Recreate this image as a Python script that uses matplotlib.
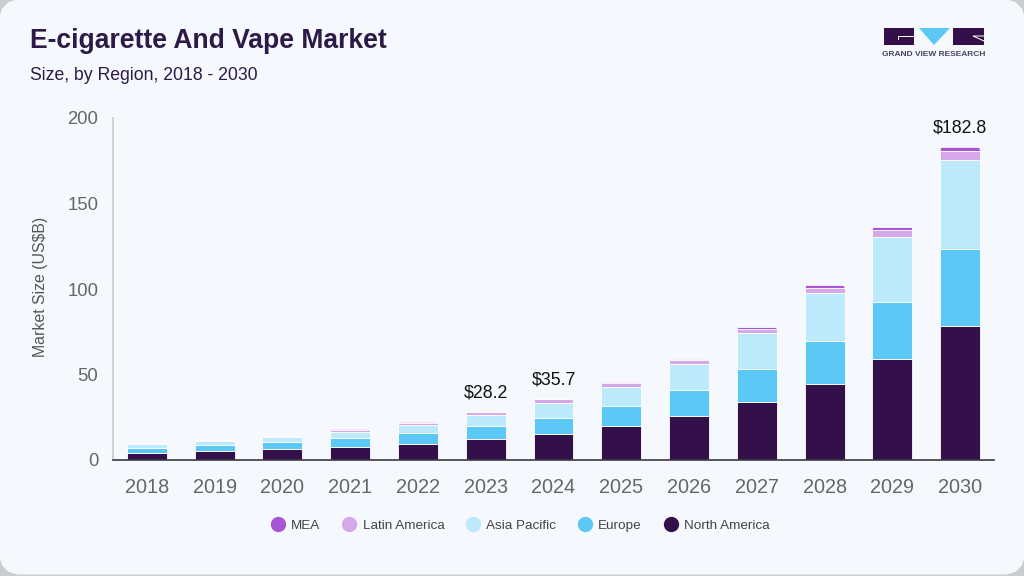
import matplotlib
matplotlib.use('Agg')
import matplotlib.pyplot as plt
from matplotlib.lines import Line2D
from matplotlib.patches import FancyBboxPatch, Polygon, Rectangle

plt.rcParams['font.family'] = ['Liberation Sans', 'DejaVu Sans']

years = ['2018', '2019', '2020', '2021', '2022', '2023', '2024', '2025', '2026', '2027', '2028', '2029', '2030']
north_america = [4.3, 5.4, 6.6, 7.8, 9.5, 12.5, 15.4, 20.0, 25.9, 33.9, 44.4, 59.0, 78.4]
europe = [2.9, 3.4, 3.9, 5.2, 6.3, 7.5, 9.3, 11.8, 15.1, 19.3, 25.2, 33.4, 45.0]
asia_pacific = [2.2, 2.5, 2.9, 3.4, 4.8, 6.5, 8.8, 11.1, 15.3, 21.1, 28.1, 38.0, 52.0]
latin_america = [0.3, 0.3, 0.4, 1.1, 1.0, 1.3, 1.9, 2.4, 1.9, 2.6, 3.0, 4.2, 5.3]
mea = [0.1, 0.1, 0.2, 0.5, 0.4, 0.4, 0.5, 0.4, 1.0, 0.9, 1.5, 1.6, 2.1]
labels = {5: '$28.2', 6: '$35.7', 12: '$182.8'}

series = [('North America', north_america, '#34104a'),
          ('Europe', europe, '#5bc8f5'),
          ('Asia Pacific', asia_pacific, '#bdeafb'),
          ('Latin America', latin_america, '#d5a8ea'),
          ('MEA', mea, '#a754d6')]

fig = plt.figure(figsize=(10.24, 5.76), dpi=100, facecolor='#cacdcd')

# card background and logo, in pixel coords
bg = fig.add_axes([0, 0, 1, 1], zorder=0)
bg.set_xlim(0, 1024)
bg.set_ylim(576, 0)
bg.axis('off')
bg.add_patch(FancyBboxPatch((12, 12), 1000, 550, boxstyle='round,pad=0,rounding_size=8',
                            mutation_aspect=1, fc='#f5f9fd', ec='#f5f9fd', lw=18))
bg.add_patch(Rectangle((884, 28), 30, 17, fc='#34104a', ec='none'))
bg.add_patch(Rectangle((953, 28), 31, 17, fc='#34104a', ec='none'))
bg.add_patch(Polygon([(919, 28), (950, 28), (934, 45)], fc='#5bc8f5', ec='none'))
bg.plot([914, 898, 898], [36, 36, 39], color='white', lw=0.7)
bg.plot([984, 973, 984], [36, 36, 41], color='white', lw=0.7)
bg.text(934, 55, 'GRAND VIEW RESEARCH', fontsize=6, fontweight='bold', color='#4a4260',
        ha='center', va='center')
bg.text(30, 48, 'E-cigarette And Vape Market', fontsize=19.1, fontweight='bold', color='#2d1a47',
        va='baseline')
bg.text(30, 80, 'Size, by Region, 2018 - 2030', fontsize=12.7, color='#2d1a47', va='baseline')

ax = fig.add_axes([113 / 1024, 1 - 460 / 576, 881 / 1024, 342 / 576], zorder=1)
ax.patch.set_alpha(0)
bottom = [0] * len(years)
for name, vals, col in series:
    bars = ax.bar(years, vals, width=0.59, bottom=bottom, color=col, edgecolor='white', linewidth=0.6, label=name)
    bottom = [b + v for b, v in zip(bottom, vals)]

# top segment has rounded upper corners
for b in bars:
    clip = FancyBboxPatch((b.get_x(), b.get_y() - 5), b.get_width(), b.get_height() + 5,
                          boxstyle='round,pad=0,rounding_size=0.05', mutation_aspect=40,
                          transform=ax.transData, fc='none', ec='none')
    b.set_clip_path(clip)

for i, txt in labels.items():
    ax.text(i, bottom[i] + 6.2, txt, ha='center', va='bottom', fontsize=12.8, color='#111111')

ax.set_xlim(-0.5, 12.5)
ax.set_ylim(0, 200)
ax.set_yticks([0, 50, 100, 150, 200])
ax.set_ylabel('Market Size (US$B)', fontsize=11.4, color='#555555', labelpad=14, y=0.505)
ax.tick_params(axis='y', length=0, labelsize=13.3, labelcolor='#666666', pad=10.5)
ax.tick_params(axis='x', length=0, labelsize=14.3, labelcolor='#666666', pad=13.3)
for s in ['top', 'right']:
    ax.spines[s].set_visible(False)
ax.spines['left'].set_color('#c8c8c8')
ax.spines['left'].set_linewidth(1.2)
ax.spines['bottom'].set_color('#3a3a44')
ax.spines['bottom'].set_linewidth(1.2)

handles = [Line2D([], [], marker='o', linestyle='none', markersize=10, color=col, label=name)
           for name, vals, col in reversed(series)]
leg = fig.legend(handles=handles, loc='center', bbox_to_anchor=(517 / 1024, 1 - 526 / 576), ncol=5,
                 frameon=False, fontsize=9.7, labelcolor='#444444', handletextpad=0.0, columnspacing=1.12)

fig.savefig('out.png', dpi=100, facecolor=fig.get_facecolor())
